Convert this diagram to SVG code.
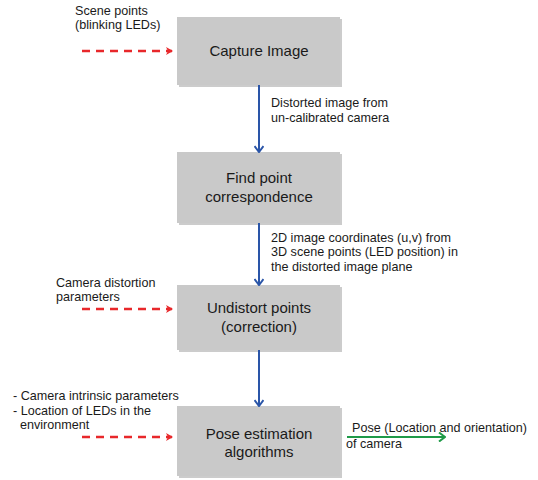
<svg xmlns="http://www.w3.org/2000/svg" width="538" height="480" viewBox="0 0 538 480">
<style>
.box{fill:#c9c9c9;}
.shadow{fill:#9a9a9a;opacity:0.5;}
.nt{font-family:"Liberation Sans",Arial,sans-serif;font-size:15px;fill:#1a1a1a;text-anchor:middle;}
.lt{font-family:"Liberation Sans",Arial,sans-serif;font-size:12.6px;fill:#1a1a1a;}
.red{stroke:#e8282b;stroke-width:2.5;stroke-dasharray:8,6;fill:none;}
.blue{stroke:#2a55a8;stroke-width:2;fill:none;}
.green{stroke:#1f9a48;stroke-width:2;fill:none;}
</style>
<defs>
<marker id="ar" markerWidth="8" markerHeight="8" refX="6" refY="4" orient="auto" markerUnits="userSpaceOnUse"><path d="M0,0 L7,4 L0,8 L2,4 Z" fill="#e8282b"/></marker>
<marker id="ab" markerWidth="10" markerHeight="10" refX="5" refY="8" orient="0" markerUnits="userSpaceOnUse"><path d="M0.5,3 L5,9 L9.5,3" fill="none" stroke="#2a55a8" stroke-width="2"/></marker>
<marker id="ag" markerWidth="10" markerHeight="10" refX="9" refY="5" orient="0" markerUnits="userSpaceOnUse"><path d="M3,0.5 L9,5 L3,9.5" fill="none" stroke="#1f9a48" stroke-width="2"/></marker>
</defs>
<rect width="538" height="480" fill="#ffffff"/>
<g id="n1"><rect class="shadow" x="179" y="19" width="163" height="68"/><rect class="box" x="177" y="17" width="163" height="68"/><text class="nt" x="259" y="56">Capture Image</text></g>
<g id="n2"><rect class="shadow" x="179" y="154" width="163" height="71"/><rect class="box" x="177" y="152" width="163" height="71"/><text class="nt" x="259" y="183">Find point</text><text class="nt" x="259" y="202">correspondence</text></g>
<g id="n3"><rect class="shadow" x="179" y="287" width="163" height="65"/><rect class="box" x="177" y="285" width="163" height="65"/><text class="nt" x="259" y="313">Undistort points</text><text class="nt" x="259" y="332">(correction)</text></g>
<g id="n4"><rect class="shadow" x="179" y="408" width="163" height="70"/><rect class="box" x="177" y="406" width="163" height="70"/><text class="nt" x="259" y="439">Pose estimation</text><text class="nt" x="259" y="457">algorithms</text></g>
<g id="connectors">
<line class="red" x1="82" y1="51" x2="172" y2="51" marker-end="url(#ar)"/>
<line class="red" x1="82" y1="309" x2="172" y2="309" marker-end="url(#ar)"/>
<line class="red" x1="82" y1="437" x2="172" y2="437" marker-end="url(#ar)"/>
<line class="blue" x1="259" y1="85" x2="259" y2="151" marker-end="url(#ab)"/>
<line class="blue" x1="259" y1="223" x2="259" y2="284" marker-end="url(#ab)"/>
<line class="blue" x1="259" y1="350" x2="259" y2="405" marker-end="url(#ab)"/>
<line class="green" x1="347" y1="437" x2="445" y2="437" marker-end="url(#ag)"/>
</g>
<g id="labels">
<text class="lt" x="75" y="15">Scene points</text>
<text class="lt" x="75" y="29">(blinking LEDs)</text>
<text class="lt" x="271" y="107">Distorted image from</text>
<text class="lt" x="271" y="122">un-calibrated camera</text>
<text class="lt" x="271" y="242">2D image coordinates (u,v) from</text>
<text class="lt" x="271" y="256">3D scene points (LED position) in</text>
<text class="lt" x="271" y="271">the distorted image plane</text>
<text class="lt" x="56" y="287">Camera distortion</text>
<text class="lt" x="56" y="301">parameters</text>
<text class="lt" x="13" y="400">- Camera intrinsic parameters</text>
<text class="lt" x="13" y="415">- Location of LEDs in the</text>
<text class="lt" x="20" y="429">environment</text>
<text class="lt" x="352" y="432">Pose (Location and orientation)</text>
<text class="lt" x="346" y="448">of camera</text>
</g>
</svg>
